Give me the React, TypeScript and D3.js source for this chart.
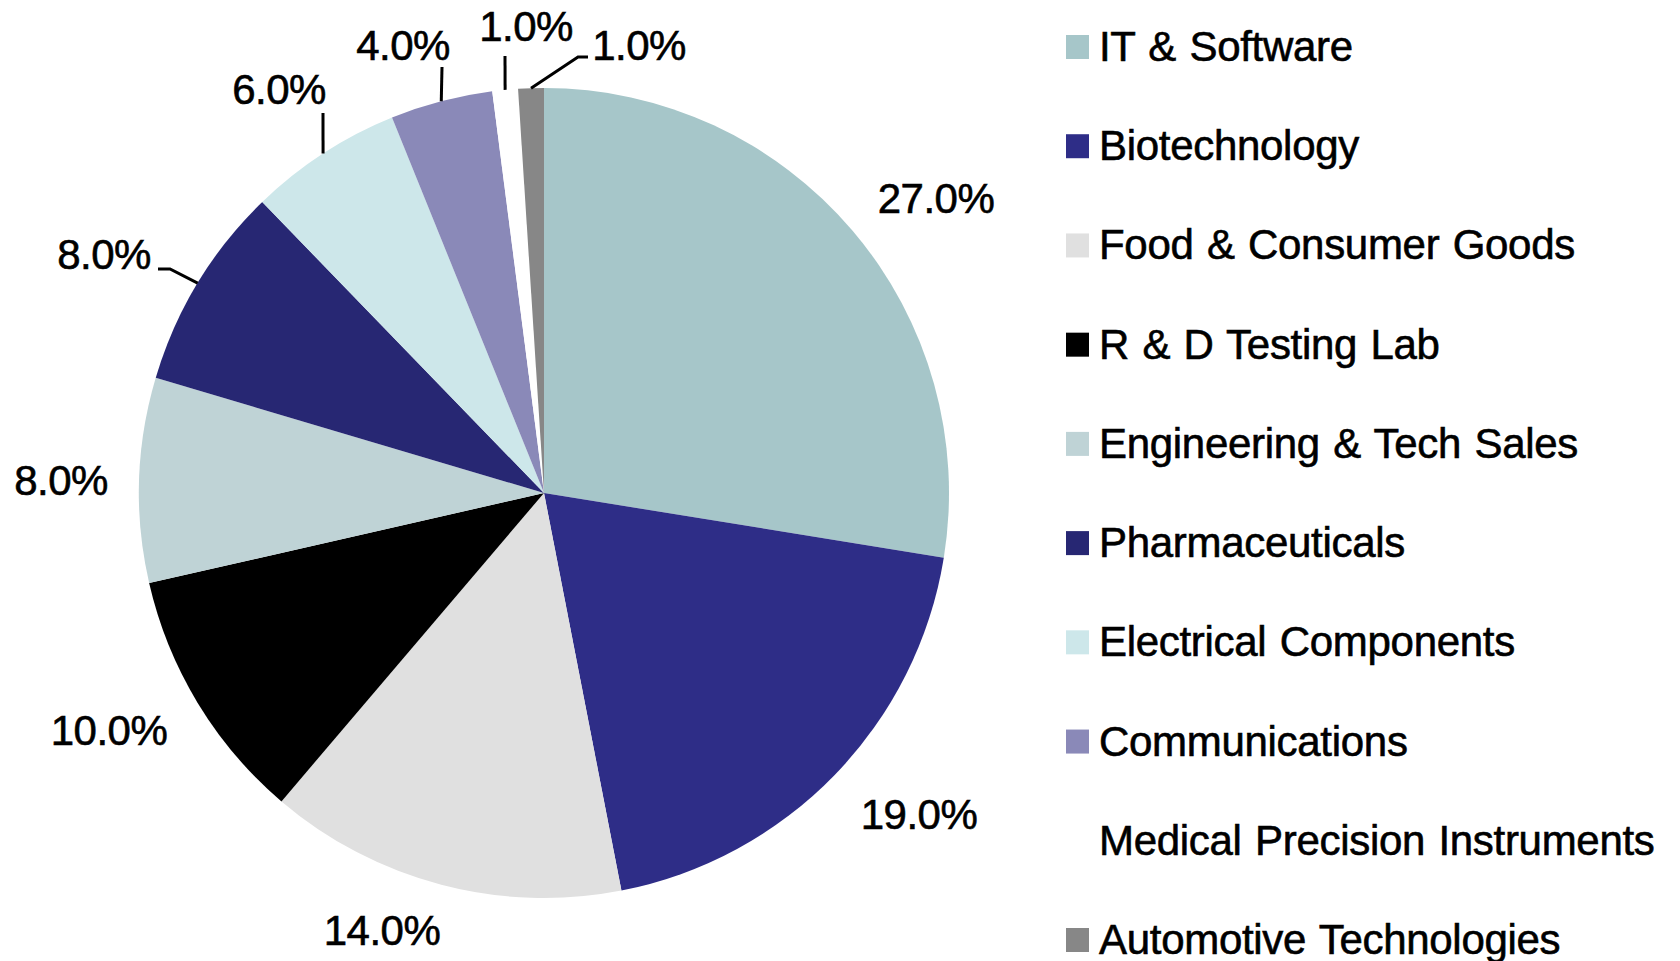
import React from "react";
import * as d3 from "d3";

const categories = [
  "IT & Software",
  "Biotechnology",
  "Food & Consumer Goods",
  "R & D Testing Lab",
  "Engineering & Tech Sales",
  "Pharmaceuticals",
  "Electrical Components",
  "Communications",
  "Medical Precision Instruments",
  "Automotive Technologies",
];
const values = [27, 19, 14, 10, 8, 8, 6, 4, 1, 1];
const labels = ["27.0%", "19.0%", "14.0%", "10.0%", "8.0%", "8.0%", "6.0%", "4.0%", "1.0%", "1.0%"];
const colors = ["#a6c6c9", "#2e2d87", "#e0e0e0", "#000000", "#bfd3d6", "#272773", "#cde7ea", "#8a89b8", "#ffffff", "#878787"];

// layout: label text centre x / baseline y, and leader elbow points (null = no leader)
const labelPos: [number, number][] = [
  [936, 213], [919, 829], [382, 945], [109, 745], [61, 495],
  [104, 269], [279, 104], [403, 60], [526, 41], [639, 60],
];
const leaderPts: ([number, number][] | null)[] = [
  null, null, null, null, null,
  [[170, 269], [158, 269]],
  [[323, 113]],
  [[442, 67]],
  [[505, 56]],
  [[578, 57], [588, 57]],
];

const W = 1680, H = 961;
const cx = 544, cy = 493, R = 405;
const FONT = "'Liberation Sans', Arial, sans-serif";

export default function App() {
  const pie = d3.pie<number>().sort(null).value((d) => d);
  const arcs = pie(values);
  const arc = d3.arc<d3.PieArcDatum<number>>().innerRadius(0).outerRadius(R);
  const edge = (a: d3.PieArcDatum<number>): [number, number] => {
    const m = (a.startAngle + a.endAngle) / 2;
    return [cx + R * Math.sin(m), cy - R * Math.cos(m)];
  };
  const line = d3.line();
  const legendY = d3.scaleLinear().domain([0, categories.length - 1]).range([61, 954]);
  const textProps = {
    fontFamily: FONT,
    fontSize: 42,
    fill: "#000",
    stroke: "#000",
    strokeWidth: 0.6,
  };

  return (
    <svg width={W} height={H} style={{ position: "absolute", left: 0, top: 0, background: "#fff" }}>
      <g transform={`translate(${cx},${cy})`}>
        {arcs.map((a, i) => (
          <path key={i} d={arc(a) || ""} fill={colors[i]} />
        ))}
      </g>
      {arcs.map((a, i) => {
        const pts = leaderPts[i];
        if (!pts) return null;
        return (
          <path key={"l" + i} d={line([edge(a), ...pts]) || ""} fill="none" stroke="#000" strokeWidth={3} />
        );
      })}
      {labels.map((t, i) => (
        <text key={"t" + i} x={labelPos[i][0]} y={labelPos[i][1]} textAnchor="middle"
          {...textProps} letterSpacing={-0.5}>{t}</text>
      ))}
      {categories.map((c, i) => (
        <g key={"g" + i}>
          <rect x={1066} y={legendY(i) - 26} width={23} height={24} fill={colors[i]} />
          <text x={1099} y={legendY(i)} {...textProps} letterSpacing={-0.3} wordSpacing={2}>{c}</text>
        </g>
      ))}
    </svg>
  );
}
